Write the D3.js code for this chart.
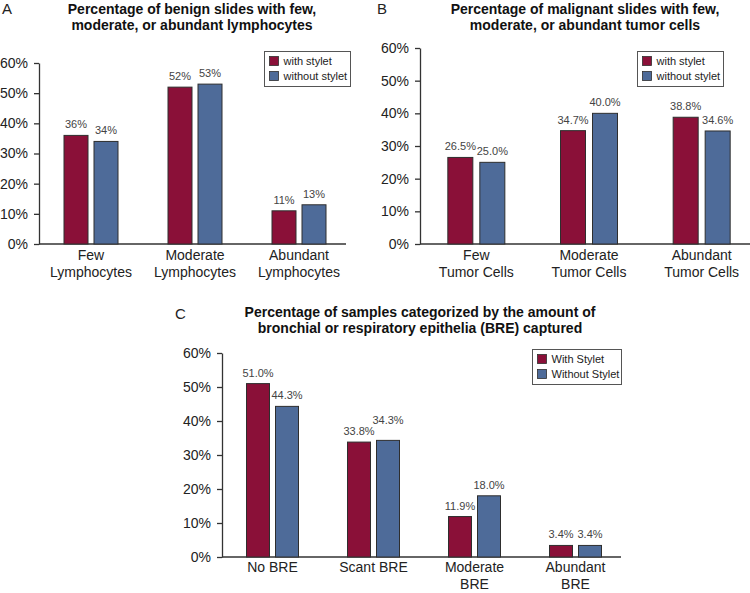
<!DOCTYPE html>
<html><head><meta charset="utf-8">
<script src="https://cdn.jsdelivr.net/npm/d3@7"></script>
<style>
body{margin:0;background:#fff;}
text{font-family:"Liberation Sans",Arial,Helvetica,sans-serif;}
</style></head>
<body>
<svg id="chart" width="750" height="593"></svg>
<script>
// Panel A data
const catsA = [["Few","Lymphocytes"],["Moderate","Lymphocytes"],["Abundant","Lymphocytes"]];
const withA = [36, 52, 11];
const withoutA = [34, 53, 13];
const labelsWithA = ["36%","52%","11%"];
const labelsWithoutA = ["34%","53%","13%"];
// Panel B data
const catsB = [["Few","Tumor Cells"],["Moderate","Tumor Cells"],["Abundant","Tumor Cells"]];
const withB = [26.5, 34.7, 38.8];
const withoutB = [25.0, 40.0, 34.6];
// Panel C data
const catsC = [["No BRE"],["Scant BRE"],["Moderate","BRE"],["Abundant","BRE"]];
const withC = [51.0, 33.8, 11.9, 3.4];
const withoutC = [44.3, 34.3, 18.0, 3.4];
// ticks
const yTicks = [0, 10, 20, 30, 40, 50, 60];
const seriesAB = ["with stylet", "without stylet"];
const seriesC = ["With Stylet", "Without Stylet"];
const titleA = ["Percentage of benign slides with few,", "moderate, or abundant lymphocytes"];
const titleB = ["Percentage of malignant slides with few,", "moderate, or abundant tumor cells"];
const titleC = ["Percentage of samples categorized by the amount of", "bronchial or respiratory epithelia (BRE) captured"];

const RED = "#8a1038", BLUE = "#4e6b99", STROKE = "#2e2e2e", AX = "#333";
const svg = d3.select("#chart");

function panel(o){
  const g = svg.append("g");
  const y = d3.scaleLinear().domain([0,60]).range([o.y0, o.y1]);
  const x = d3.scaleBand().domain(d3.range(o.cats.length)).range([o.x0, o.x1]);
  // y axis
  const ya = g.append("g").attr("transform",`translate(${o.x0},0)`)
    .call(d3.axisLeft(y).tickValues(yTicks).tickFormat(d=>d+"%").tickSize(5).tickSizeOuter(0).tickPadding(6));
  ya.select(".domain").attr("stroke",AX).attr("stroke-width",1.3);
  ya.selectAll(".tick line").attr("stroke",AX).attr("stroke-width",1.3);
  ya.selectAll(".tick text").attr("font-size",14).attr("fill","#222").attr("font-family","Liberation Sans, Arial, sans-serif");
  // baseline
  g.append("line").attr("x1",o.x0).attr("x2",o.xEnd).attr("y1",y(0)).attr("y2",y(0))
    .attr("stroke",AX).attr("stroke-width",1.3);
  const series = [o.w, o.wo];
  const cols = [RED, BLUE];
  series.forEach((vals, si)=>{
    vals.forEach((v,i)=>{
      const cx = x(i) + x.bandwidth()/2;
      const bx = si===0 ? cx - o.gap/2 - o.bw : cx + o.gap/2;
      g.append("rect").attr("x",bx).attr("y",y(v)).attr("width",o.bw).attr("height",y(0)-y(v))
        .attr("fill",cols[si]).attr("stroke",STROKE).attr("stroke-width",1);
      g.append("text").attr("x",bx+o.bw/2).attr("y",y(v)-7 - (o.lift? o.lift[si][i]:0)).attr("text-anchor","middle")
        .attr("font-size",11).attr("fill","#444").text(o.lab[si][i]);
    });
  });
  // category labels
  o.cats.forEach((c,i)=>{
    const cx = x(i) + x.bandwidth()/2;
    c.forEach((line,j)=>{
      g.append("text").attr("x",cx).attr("y",o.catY + j*17).attr("text-anchor","middle")
        .attr("font-size",14).attr("fill","#222").text(line);
    });
  });
  // title
  o.title.forEach((t,j)=>{
    g.append("text").attr("x",o.tx).attr("y",o.ty + j*16).attr("text-anchor","middle")
      .attr("font-size",14).attr("font-weight","bold").attr("fill","#111").text(t);
  });
  g.append("text").attr("x",o.lx).attr("y",o.ly).attr("font-size",15).attr("fill","#222").text(o.letter);
  // legend
  const lg = g.append("g").attr("transform",`translate(${o.legX},${o.legY})`);
  lg.append("rect").attr("x",0).attr("y",0).attr("width",o.legW).attr("height",35)
    .attr("fill","#fff").attr("stroke","#555").attr("stroke-width",1);
  o.names.forEach((n,k)=>{
    lg.append("rect").attr("x",5).attr("y",5+k*15).attr("width",9).attr("height",9)
      .attr("fill",cols[k]).attr("stroke",STROKE).attr("stroke-width",0.8);
    lg.append("text").attr("x",19).attr("y",13.5+k*15).attr("font-size",11).attr("fill","#222").text(n);
  });
}

panel({cats:catsA, w:withA, wo:withoutA, lab:[labelsWithA, labelsWithoutA],
  x0:39, x1:351, xEnd:346, y0:244, y1:63, bw:24, gap:6, catY:260,
  title:titleA, tx:192, ty:14, letter:"A", lx:2, ly:14,
  legX:264.5, legY:51.5, legW:86, names:seriesAB});

panel({cats:catsB, w:withB, wo:withoutB, lab:[withB.map(v=>v.toFixed(1)+"%"), withoutB.map(v=>v.toFixed(1)+"%")],
  x0:420, x1:758, xEnd:750, y0:244, y1:48, bw:25, gap:7, catY:260,
  title:titleB, tx:585, ty:14, letter:"B", lx:377, ly:14,
  legX:637.5, legY:51.5, legW:86, names:seriesAB});

panel({cats:catsC, w:withC, wo:withoutC, lab:[withC.map(v=>v.toFixed(1)+"%"), withoutC.map(v=>v.toFixed(1)+"%")],
  lift:[[0,0,0,0],[0,9,0,0]],
  x0:222, x1:626, xEnd:621, y0:557, y1:353, bw:23, gap:6, catY:572,
  title:titleC, tx:420, ty:317, letter:"C", lx:175, ly:319,
  legX:532.5, legY:349.5, legW:89, names:seriesC});
</script>
</body></html>
